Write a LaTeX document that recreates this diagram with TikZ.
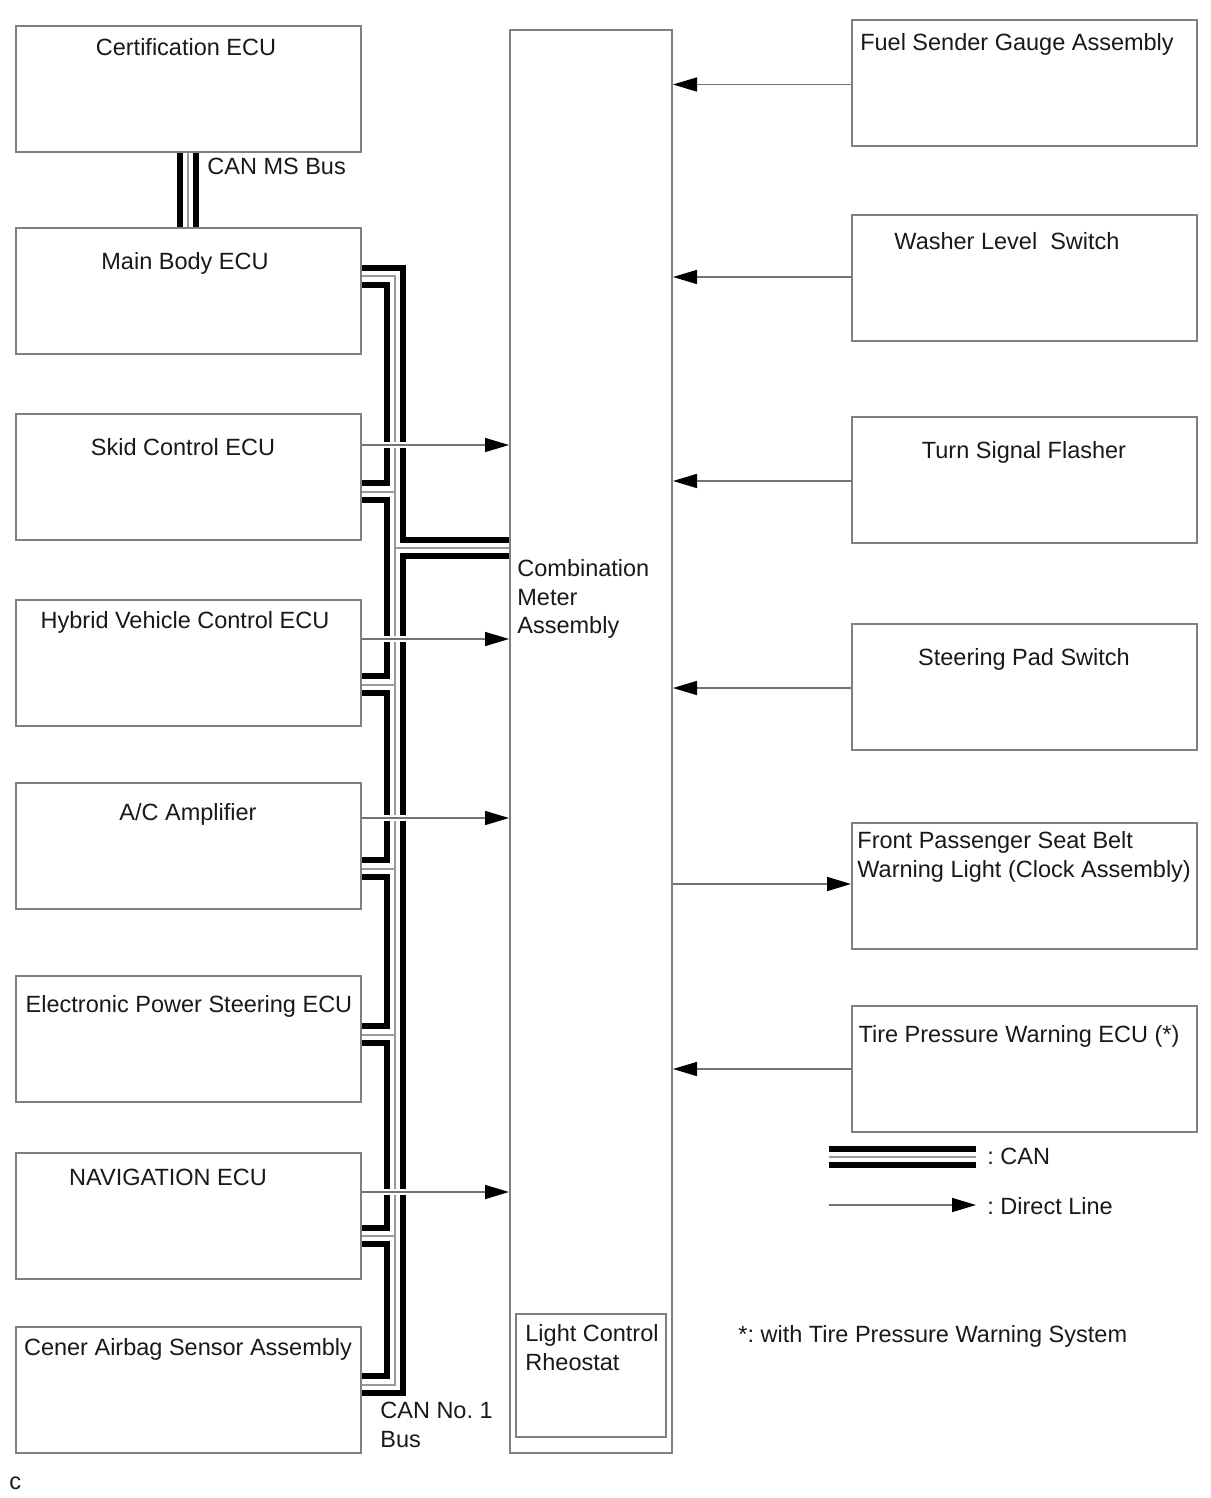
\documentclass[tikz,border=0pt]{standalone}
\usepackage{fontspec}
\setmainfont{Liberation Sans}
\usetikzlibrary{positioning}
\usetikzlibrary{arrows.meta}
\frenchspacing

\tikzset{
    ecubox/.style={draw=black!50, line width=1pt, minimum width=172.5pt, minimum height=63pt, inner sep=0pt},
    lbl/.style={anchor=base, inner sep=0pt, text=black!90},
    lblL/.style={anchor=base west, inner sep=0pt, align=left, text=black!90},
    direct/.style={draw=black!55, line width=0.8pt, -{Triangle[length=12pt, width=7pt, color=black]}},
    canline/.style={draw=black, line width=3pt},
    canmid/.style={draw=black!40, line width=1pt},
    gapmask/.style={draw=white, line width=3pt},
}

\begin{document}
\begin{tikzpicture}[x=0.5pt, y=-0.5pt, font=\fontsize{11.75}{14.25}\selectfont]
    \useasboundingbox (0,0) rectangle (1210,1498);

    % left column
    \node[ecubox, anchor=north west] (cert) at (15,25) {};
    \node[ecubox, below=37pt of cert] (mainbody) {};
    \node[ecubox, below=29pt of mainbody] (skid) {};
    \node[ecubox, below=29pt of skid] (hybrid) {};
    \node[ecubox, below=27.5pt of hybrid] (ac) {};
    \node[ecubox, below=32.5pt of ac] (eps) {};
    \node[ecubox, below=24.5pt of eps] (nav) {};
    \node[ecubox, below=23pt of nav] (airbag) {};

    \node[lbl] (certT) at (186,55.5) {Certification ECU};
    \node[lbl] (mainbodyT) at (185,269.5) {Main Body ECU};
    \node[lbl] (skidT) at (183,455.5) {Skid Control ECU};
    \node[lbl] (hybridT) at (185,628.5) {Hybrid Vehicle Control ECU};
    \node[lbl] (acT) at (188,820.5) {A/C Amplifier};
    \node[lbl] (epsT) at (189,1012.5) {Electronic Power Steering ECU};
    \node[lbl] (navT) at (168,1185.5) {NAVIGATION ECU};
    \node[lbl] (airbagT) at (188,1355.5) {Cener Airbag Sensor Assembly};

    % combination meter
    \node[ecubox, anchor=north west, minimum width=81pt, minimum height=711.5pt] (meter) at (509,29) {};
    \node[lblL] (meterT) at (517,633.5) {Combination\\Meter\\Assembly};
    \node[ecubox, anchor=north west, minimum width=75pt, minimum height=61.5pt] (rheo) at (515,1313) {};
    \node[lblL] (rheoT) at (525,1370) {Light Control\\Rheostat};

    % right column
    \node[ecubox, anchor=north west] (fuel) at (851,19) {};
    \node[ecubox, below=33.5pt of fuel] (washer) {};
    \node[ecubox, below=37pt of washer] (turn) {};
    \node[ecubox, below=39.5pt of turn] (steer) {};
    \node[ecubox, below=35.5pt of steer] (front) {};
    \node[ecubox, below=27.5pt of front] (tire) {};

    \node[lbl] (fuelT) at (1017,50.5) {Fuel Sender Gauge Assembly};
    \node[lbl] (washerT) at (1007,249.5) {Washer Level\ \ Switch};
    \node[lbl] (turnT) at (1024,458.5) {Turn Signal Flasher};
    \node[lbl] (steerT) at (1024,665.5) {Steering Pad Switch};
    \node[lblL] (frontT) at (857,877) {Front Passenger Seat Belt\\Warning Light (Clock Assembly)};
    \node[lbl] (tireT) at (1019,1042.5) {Tire Pressure Warning ECU (*)};

    % CAN MS bus
    \draw[canline] (cert.south -| 180,0) -- (mainbody.north -| 180,0);
    \draw[canline] (cert.south -| 196,0) -- (mainbody.north -| 196,0);
    \draw[canmid] (cert.south -| 188,0) -- (mainbody.north -| 188,0);
    \node[lblL] (msbusT) at (207,174.5) {CAN MS Bus};

    % CAN No. 1 bus
    \draw[canmid] (mainbody.east |- 0,276) -- (395,276) -- (395,1385) -- (airbag.east |- 0,1385);
    \draw[canmid] (skid.east |- 0,491.5) -- (395,491.5);
    \draw[canmid] (hybrid.east |- 0,684.5) -- (395,684.5);
    \draw[canmid] (ac.east |- 0,868.5) -- (395,868.5);
    \draw[canmid] (eps.east |- 0,1034.5) -- (395,1034.5);
    \draw[canmid] (nav.east |- 0,1236) -- (395,1236);
    \draw[canmid] (395,548) -- (meter.west |- 0,548);

    \draw[canline] (mainbody.east |- 0,268) -- (403,268) -- (403,540) -- (meter.west |- 0,540);
    \draw[canline] (meter.west |- 0,556) -- (403,556) -- (403,1393) -- (airbag.east |- 0,1393);

    \draw[canline] (mainbody.east |- 0,284.5) -- (386.5,284.5) -- (386.5,483) -- (skid.east |- 0,483);
    \draw[canline] (skid.east |- 0,500) -- (386.5,500) -- (386.5,676) -- (hybrid.east |- 0,676);
    \draw[canline] (hybrid.east |- 0,693) -- (386.5,693) -- (386.5,860) -- (ac.east |- 0,860);
    \draw[canline] (ac.east |- 0,877) -- (386.5,877) -- (386.5,1026) -- (eps.east |- 0,1026);
    \draw[canline] (eps.east |- 0,1043) -- (386.5,1043) -- (386.5,1228) -- (nav.east |- 0,1228);
    \draw[canline] (nav.east |- 0,1244) -- (386.5,1244) -- (386.5,1376) -- (airbag.east |- 0,1376);
    \node[lblL] (can1T) at (380,1447) {CAN No. 1\\Bus};

    % direct lines
    \draw[gapmask] (378,445) -- (411,445);
    \draw[gapmask] (378,639) -- (411,639);
    \draw[gapmask] (378,818) -- (411,818);
    \draw[gapmask] (378,1192) -- (411,1192);
    \draw[direct] (skid.east |- 0,445) -- (meter.west |- 0,445);
    \draw[direct] (hybrid.east |- 0,639) -- (meter.west |- 0,639);
    \draw[direct] (ac.east |- 0,818) -- (meter.west |- 0,818);
    \draw[direct] (nav.east |- 0,1192) -- (meter.west |- 0,1192);

    \draw[direct] (fuel.west |- 0,84.5) -- (meter.east |- 0,84.5);
    \draw[direct] (washer.west |- 0,277) -- (meter.east |- 0,277);
    \draw[direct] (turn.west |- 0,481) -- (meter.east |- 0,481);
    \draw[direct] (steer.west |- 0,688) -- (meter.east |- 0,688);
    \draw[direct] (meter.east |- 0,884) -- (front.west |- 0,884);
    \draw[direct] (tire.west |- 0,1069) -- (meter.east |- 0,1069);

    % legend
    \coordinate (canA) at (829,1157);
    \coordinate (canB) at (976,1157);
    \draw[canline] ([yshift=4pt]canA) -- ([yshift=4pt]canB);
    \draw[canline] ([yshift=-4pt]canA) -- ([yshift=-4pt]canB);
    \draw[canmid] (canA) -- (canB);
    \node[lblL] (canT) at (987,1164.5) {: CAN};
    \coordinate (dirA) at (829,1205);
    \coordinate (dirB) at (976,1205);
    \draw[direct] (dirA) -- (dirB);
    \node[lblL] (dirT) at (987,1214.5) {: Direct Line};

    \node[lblL] (noteT) at (738,1342.5) {*: with Tire Pressure Warning System};
    \node[lblL] (cT) at (9,1489) {c};
\end{tikzpicture}
\end{document}
